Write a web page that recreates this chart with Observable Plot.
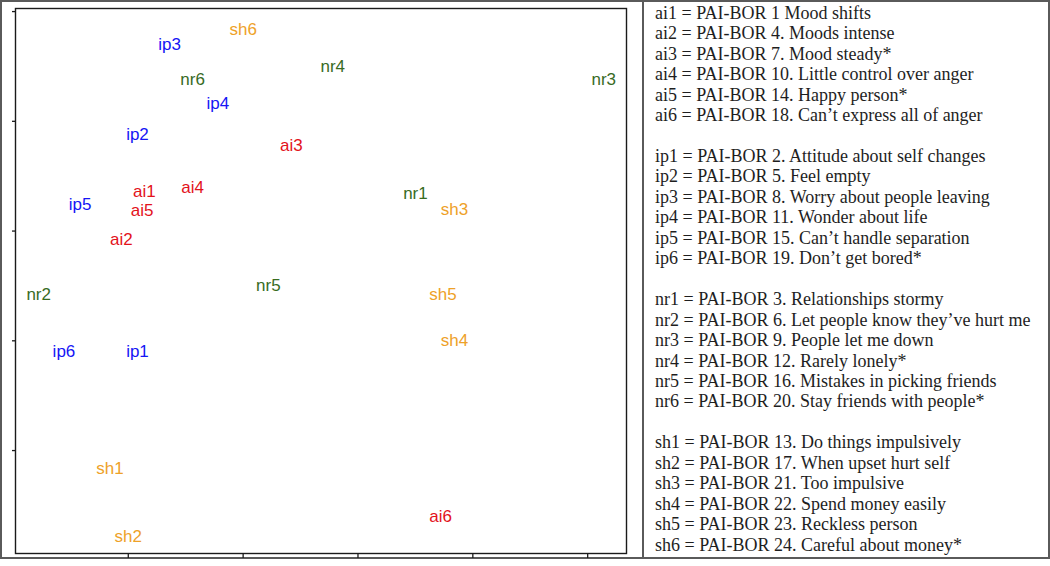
<!DOCTYPE html>
<html>
<head>
<meta charset="utf-8">
<script src="https://cdn.jsdelivr.net/npm/d3@7"></script>
<script src="https://cdn.jsdelivr.net/npm/@observablehq/plot@0.6"></script>
<style>
  html, body { margin: 0; padding: 0; background: #fff; }
  #wrap { position: relative; width: 1050px; height: 566px; overflow: hidden; }
  #outer { position: absolute; left: 0; top: 0; width: 1046px; height: 555px; border: 2px solid #5a5a5a; }
  #divider { position: absolute; left: 642px; top: 0; width: 2px; height: 559px; background: #5a5a5a; }
  #chart { position: absolute; left: 0; top: 0; }
  #legend { position: absolute; left: 655px; top: 2.8px; font-family: "Liberation Serif", serif; font-size: 18px; line-height: 20.45px; color: #1e1e1e; white-space: pre; }
</style>
</head>
<body>
<div id="wrap">
  <div id="outer"></div>
  <div id="divider"></div>
  <div id="chart"></div>
  <div id="legend"></div>
</div>
<script>
// Item labels and their 2-D coordinates
const labels = ["sh6","ip3","nr6","nr4","nr3","ip4","ip2","ai3","ai1","ai4","ip5","ai5","nr1","sh3","ai2","nr2","nr5","sh5","sh4","ip6","ip1","sh1","sh2","ai6"];
const xs = [-0.50,-0.82,-0.72,-0.11,1.07,-0.61,-0.96,-0.29,-0.93,-0.72,-1.21,-0.94,0.25,0.42,-1.03,-1.39,-0.39,0.37,0.42,-1.28,-0.96,-1.08,-1.00,0.36];
const ys = [0.92,0.85,0.69,0.75,0.69,0.58,0.44,0.39,0.18,0.20,0.12,0.095,0.17,0.10,-0.04,-0.29,-0.25,-0.29,-0.50,-0.55,-0.55,-1.08,-1.39,-1.30];

const groups = ["ai","ip","nr","sh"];
const groupColors = ["#e3121b","#1515f5","#386b1f","#eea128"];

const xTicks = [-1,-0.5,0,0.5,1];
const yTicks = [-1,-0.5,0,0.5,1];

const legendLines = [
  "ai1 = PAI-BOR 1 Mood shifts",
  "ai2 = PAI-BOR 4. Moods intense",
  "ai3 = PAI-BOR 7. Mood steady*",
  "ai4 = PAI-BOR 10. Little control over anger",
  "ai5 = PAI-BOR 14. Happy person*",
  "ai6 = PAI-BOR 18. Can’t express all of anger",
  "",
  "ip1 = PAI-BOR 2. Attitude about self changes",
  "ip2 = PAI-BOR 5. Feel empty",
  "ip3 = PAI-BOR 8. Worry about people leaving",
  "ip4 = PAI-BOR 11. Wonder about life",
  "ip5 = PAI-BOR 15. Can’t handle separation",
  "ip6 = PAI-BOR 19. Don’t get bored*",
  "",
  "nr1 = PAI-BOR 3. Relationships stormy",
  "nr2 = PAI-BOR 6. Let people know they’ve hurt me",
  "nr3 = PAI-BOR 9. People let me down",
  "nr4 = PAI-BOR 12. Rarely lonely*",
  "nr5 = PAI-BOR 16. Mistakes in picking friends",
  "nr6 = PAI-BOR 20. Stay friends with people*",
  "",
  "sh1 = PAI-BOR 13. Do things impulsively",
  "sh2 = PAI-BOR 17. When upset hurt self",
  "sh3 = PAI-BOR 21. Too impulsive",
  "sh4 = PAI-BOR 22. Spend money easily",
  "sh5 = PAI-BOR 23. Reckless person",
  "sh6 = PAI-BOR 24. Careful about money*"
];

const data = labels.map((l, i) => ({label: l, group: l.slice(0, 2), x: xs[i], y: ys[i]}));

const chart = Plot.plot({
  width: 1050,
  height: 566,
  marginLeft: 15,
  marginRight: 424,
  marginTop: 8,
  marginBottom: 13,
  x: {domain: [-1.491, 1.169]},
  y: {domain: [-1.469, 1.014]},
  color: {domain: groups, range: groupColors},
  style: {fontFamily: "'Liberation Sans', Arial, sans-serif", background: "transparent"},
  marks: [
    Plot.frame({stroke: "#1a1a1a", strokeWidth: 1.4}),
    Plot.axisX(xTicks, {tickSize: 5, tickFormat: () => "", label: null, stroke: "#1a1a1a", strokeWidth: 1.3}),
    Plot.axisY(yTicks, {tickSize: 3, tickFormat: () => "", label: null, stroke: "#1a1a1a", strokeWidth: 1.3}),
    Plot.text(data, {x: "x", y: "y", text: "label", fill: "group", fontSize: 17})
  ]
});
document.getElementById("chart").appendChild(chart);
document.getElementById("legend").textContent = legendLines.join("\n");
</script>
</body>
</html>
